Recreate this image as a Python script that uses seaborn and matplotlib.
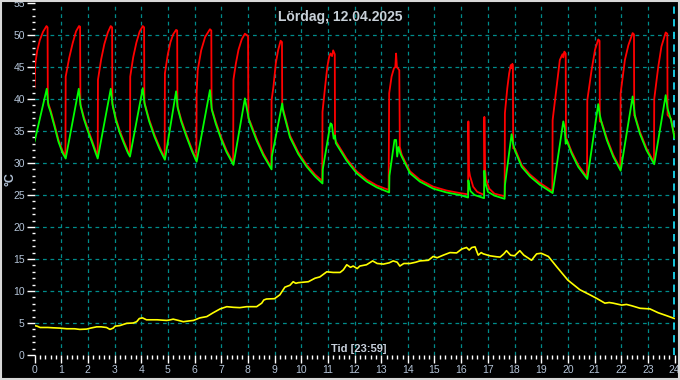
import pandas as pd
import matplotlib
matplotlib.use("Agg")
import matplotlib.pyplot as plt
import seaborn as sns
from matplotlib.ticker import MultipleLocator
from matplotlib.patches import Rectangle

# Flow temperature (red) - hour, degC
red_t = [0.00, 0.03, 0.10, 0.20, 0.32, 0.45, 0.49, 0.50, 0.60, 0.75, 0.90, 1.05, 1.16,
         1.17, 1.30, 1.43, 1.56, 1.67, 1.71, 1.72, 1.85, 2.00, 2.15, 2.30, 2.37,
         2.38, 2.50, 2.62, 2.75, 2.86, 2.91, 2.92, 3.05, 3.20, 3.35, 3.50, 3.58,
         3.59, 3.70, 3.82, 3.94, 4.06, 4.11, 4.12, 4.30, 4.50, 4.70, 4.88,
         4.89, 5.00, 5.10, 5.20, 5.31, 5.35, 5.36, 5.50, 5.70, 5.90, 6.07,
         6.08, 6.12, 6.25, 6.40, 6.58, 6.63, 6.64, 6.80, 7.00, 7.20, 7.45,
         7.46, 7.55, 7.65, 7.77, 7.89, 7.96, 8.01, 8.02, 8.10, 8.33, 8.58, 8.88,
         8.89, 8.96, 9.05, 9.14, 9.23, 9.28, 9.29, 9.33, 9.58, 9.89, 10.21, 10.52, 10.79,
         10.80, 10.90, 10.98, 11.05, 11.10, 11.16, 11.20, 11.26, 11.27, 11.30, 11.70, 12.08, 12.46, 12.83, 13.28,
         13.30, 13.39, 13.48, 13.53, 13.56, 13.59, 13.68, 13.70, 13.77, 14.08, 14.45, 14.95, 15.45, 15.95, 16.26,
         16.27, 16.29, 16.33, 16.45, 16.60, 16.86,
         16.87, 16.89, 16.93, 17.05, 17.25, 17.63,
         17.64, 17.73, 17.80, 17.86, 17.89, 17.92, 17.94, 17.95, 18.02, 18.27, 18.58, 18.95, 19.42,
         19.43, 19.58, 19.70, 19.80, 19.83, 19.87, 19.92, 19.93, 20.14, 20.39, 20.72,
         20.73, 20.89, 21.02, 21.14, 21.19, 21.20, 21.27, 21.46, 21.70, 21.97,
         21.98, 22.14, 22.27, 22.43, 22.48, 22.49, 22.52, 22.70, 22.95, 23.23,
         23.24, 23.39, 23.51, 23.67, 23.73, 23.74, 23.87, 24.00]
red_v = [41.7, 45.5, 47.5, 49.2, 50.5, 51.4, 51.2, 39.5, 38.3, 36.0, 33.6, 31.9, 31.0,
         43.5, 46.4, 48.7, 50.6, 51.4, 51.3, 39.2, 37.2, 35.3, 33.6, 31.8, 31.0,
         43.0, 46.2, 48.6, 50.4, 51.4, 51.2, 39.3, 37.0, 35.0, 33.4, 31.9, 31.3,
         43.5, 46.5, 48.8, 50.5, 51.4, 51.2, 39.5, 36.8, 34.4, 32.4, 30.8,
         44.0, 47.0, 48.9, 50.1, 50.8, 50.7, 38.9, 36.8, 34.4, 32.2, 30.5,
         41.0, 44.5, 47.6, 49.7, 50.9, 50.7, 38.6, 36.4, 34.0, 32.0, 30.0,
         43.0, 45.5, 47.7, 49.3, 50.2, 50.0, 49.8, 37.0, 36.3, 33.8, 31.5, 29.3,
         39.8, 41.9, 45.6, 47.7, 49.1, 48.9, 38.5, 38.3, 34.3, 31.7, 29.7, 28.2, 27.2,
         38.0, 42.0, 45.0, 46.6, 47.1, 46.7, 47.6, 47.0, 33.8, 33.4, 30.7, 28.7, 27.4, 26.5, 25.8,
         40.9, 43.5, 44.8, 45.0, 47.1, 45.0, 44.5, 32.5, 31.3, 28.7, 27.4, 26.3, 25.7, 25.3, 25.1,
         36.5, 29.0, 28.0, 26.3, 25.5, 25.0,
         37.2, 29.5, 27.5, 26.0, 25.2, 24.8,
         37.8, 41.7, 44.0, 45.3, 44.8, 45.5, 45.2, 32.3, 32.2, 29.7, 28.2, 26.9, 25.6,
         36.7, 41.9, 46.1, 47.0, 46.5, 47.4, 47.1, 34.0, 31.8, 29.7, 27.8,
         39.8, 44.5, 47.7, 49.3, 49.1, 36.5, 36.4, 33.9, 31.3, 29.1,
         40.9, 46.1, 48.4, 50.3, 50.1, 37.4, 37.4, 34.9, 32.3, 30.1,
         40.0, 45.0, 48.2, 50.4, 50.2, 37.5, 36.9, 34.1]

# Return temperature (green)
green_t = [0.00, 0.46, 0.52, 0.60, 0.75, 0.90, 1.05, 1.17,
           1.66, 1.73, 1.85, 2.00, 2.15, 2.30, 2.37,
           2.86, 2.93, 3.05, 3.20, 3.35, 3.50, 3.58,
           4.06, 4.13, 4.30, 4.50, 4.70, 4.89,
           5.31, 5.37, 5.50, 5.70, 5.90, 6.08,
           6.58, 6.65, 6.80, 7.00, 7.20, 7.46,
           7.89, 8.03, 8.10, 8.33, 8.58, 8.89,
           8.90, 9.29, 9.33, 9.58, 9.89, 10.21, 10.52, 10.80,
           10.81, 11.10, 11.15, 11.22, 11.27, 11.30, 11.70, 12.08, 12.46, 12.83, 13.30,
           13.31, 13.50, 13.56, 13.60, 13.65, 13.72, 13.77, 14.08, 14.45, 14.95, 15.45, 15.95, 16.26,
           16.27, 16.30, 16.35, 16.50, 16.86,
           16.87, 16.90, 17.00, 17.25, 17.63,
           17.64, 17.89, 17.95, 18.02, 18.27, 18.58, 18.95, 19.43,
           19.83, 19.88, 19.92, 19.95, 20.14, 20.39, 20.73,
           21.14, 21.20, 21.27, 21.46, 21.70, 21.98,
           22.43, 22.50, 22.52, 22.70, 22.95, 23.24,
           23.67, 23.74, 23.87, 24.00]
green_v = [33.3, 41.6, 39.0, 38.0, 35.7, 33.3, 31.6, 30.7,
           41.6, 38.9, 36.9, 35.0, 33.3, 31.5, 30.7,
           41.6, 39.0, 36.7, 34.7, 33.1, 31.6, 31.0,
           41.7, 39.2, 36.5, 34.1, 32.1, 30.5,
           41.2, 38.6, 36.5, 34.1, 31.9, 30.2,
           41.4, 38.3, 36.1, 33.7, 31.7, 29.7,
           40.1, 37.0, 36.0, 33.5, 31.2, 29.0,
           31.0, 39.3, 38.0, 34.0, 31.4, 29.4, 27.9, 26.8,
           29.0, 36.2, 36.0, 33.8, 34.3, 33.1, 30.4, 28.4, 27.1, 26.2, 25.4,
           28.0, 33.6, 33.6, 31.0, 32.5, 31.5, 31.0, 28.4, 27.1, 26.0, 25.4, 25.0, 24.6,
           27.3, 26.5, 25.6, 25.0, 24.5,
           28.8, 27.0, 25.5, 24.9, 24.4,
           26.5, 34.5, 33.0, 31.9, 29.4, 27.9, 26.6, 25.3,
           36.5, 35.5, 33.0, 33.6, 31.5, 29.4, 27.5,
           39.2, 37.5, 36.2, 33.6, 31.0, 28.8,
           40.4, 38.0, 37.2, 34.6, 32.0, 29.8,
           40.6, 38.5, 36.7, 33.9]

# Outdoor temperature (yellow)
out_t = [0.00, 0.10, 0.21, 0.50, 0.70, 0.96, 1.21, 1.50, 1.70, 1.96, 2.10, 2.33, 2.50, 2.70,
         2.83, 2.95, 3.02, 3.20, 3.46, 3.70, 3.83, 3.93, 4.05, 4.20, 4.60, 4.96, 5.10, 5.20,
         5.40, 5.58, 5.75, 5.96, 6.20, 6.46, 6.70, 6.96, 7.21, 7.46, 7.70, 7.96, 8.33, 8.52,
         8.60, 8.70, 9.00, 9.20, 9.39, 9.58, 9.70, 9.80, 9.89, 10.27, 10.52, 10.70, 10.96,
         11.20, 11.46, 11.58, 11.71, 11.85, 11.95, 12.10, 12.20, 12.45, 12.68, 12.85, 13.08,
         13.30, 13.45, 13.60, 13.70, 13.85, 14.08, 14.30, 14.45, 14.77, 14.95, 15.10, 15.33,
         15.58, 15.83, 16.02, 16.20, 16.30, 16.40, 16.52, 16.64, 16.75, 16.83, 17.08, 17.33,
         17.46, 17.60, 17.70, 17.85, 18.00, 18.20, 18.35, 18.46, 18.64, 18.75, 18.83, 19.00,
         19.27, 19.58, 20.00, 20.45, 20.83, 21.08, 21.39, 21.55, 21.70, 22.02, 22.20, 22.39,
         22.71, 23.08, 23.39, 23.70, 24.00]
out_v = [4.6, 4.5, 4.3, 4.3, 4.25, 4.2, 4.1, 4.1, 4.0, 4.05, 4.2, 4.4, 4.4, 4.3,
         4.0, 4.2, 4.5, 4.6, 4.95, 5.0, 5.2, 5.7, 5.8, 5.5, 5.5, 5.4, 5.5, 5.6,
         5.4, 5.2, 5.3, 5.4, 5.8, 6.0, 6.6, 7.2, 7.55, 7.45, 7.4, 7.55, 7.55, 8.1,
         8.6, 8.75, 8.8, 9.4, 10.6, 10.9, 11.45, 11.2, 11.3, 11.45, 12.0, 12.2, 13.0,
         12.9, 12.9, 13.3, 14.1, 13.7, 13.9, 13.5, 13.9, 14.1, 14.7, 14.3, 14.2,
         14.4, 14.7, 14.5, 13.9, 14.3, 14.3, 14.5, 14.7, 14.8, 15.4, 15.2, 15.6,
         16.0, 15.95, 16.55, 16.8, 16.4, 16.8, 16.9, 15.6, 16.0, 15.8, 15.5, 15.35,
         15.3, 15.8, 16.3, 15.6, 15.5, 16.3, 15.6, 15.3, 14.8, 15.4, 15.8, 15.9,
         15.4, 13.8, 11.7, 10.2, 9.4, 8.85, 8.1, 8.2, 8.1, 7.8, 7.9, 7.7,
         7.3, 7.2, 6.6, 6.15, 5.7]

x_ticks = list(range(0, 25))
y_ticks = list(range(0, 56, 5))

sns.set_theme(style="ticks", rc={"axes.facecolor": "black", "figure.facecolor": "black",
                                 "xtick.color": "white", "ytick.color": "white"})
plt.rcParams['font.family'] = ['Liberation Sans', 'DejaVu Sans']

fig = plt.figure(figsize=(6.8, 3.8), dpi=100)
ax = fig.add_axes([34.5 / 680, 25 / 380, 640 / 680, 352 / 380])
ax.set_facecolor("black")

# dashed grid, one line per hour / per 5 degrees
grid_col = "#008b8b"
for h in range(1, 24):
    ax.axvline(h, color=grid_col, lw=0.9, ls=(0, (3, 3)), zorder=1)
for v in range(5, 55, 5):
    ax.axhline(v, color=grid_col, lw=0.9, ls=(0, (3, 3)), zorder=1)
ax.axvline(23.98, color="#19d8f0", lw=1.3, ls=(0, (4, 3)), zorder=1)

red_df = pd.DataFrame({"t": red_t, "v": red_v})
green_df = pd.DataFrame({"t": green_t, "v": green_v})
out_df = pd.DataFrame({"t": out_t, "v": out_v})

sns.lineplot(data=red_df, x="t", y="v", ax=ax, color="#ff0000", lw=1.3,
             estimator=None, sort=False, zorder=3)
sns.lineplot(data=green_df, x="t", y="v", ax=ax, color="#00ff00", lw=1.3,
             estimator=None, sort=False, zorder=4)
sns.lineplot(data=out_df, x="t", y="v", ax=ax, color="#ffff00", lw=1.2,
             estimator=None, sort=False, zorder=4)

ax.set_xlim(0, 24)
ax.set_ylim(0, 55)
ax.set_xticks(x_ticks)
ax.set_yticks(y_ticks)
ax.xaxis.set_minor_locator(MultipleLocator(0.2))
ax.yaxis.set_minor_locator(MultipleLocator(1))
lab_col = "#b4c4d8"
ax.tick_params(axis="both", which="major", direction="out", color="white",
               labelcolor=lab_col, labelsize=7.5, width=1)
ax.tick_params(axis="y", which="major", length=6, pad=1)
ax.tick_params(axis="y", which="minor", length=2.5, width=1, color="white")
ax.tick_params(axis="x", which="major", length=5.5, pad=1.5)
ax.tick_params(axis="x", which="minor", length=3, width=1, color="white")
for s in ax.spines.values():
    s.set_visible(False)
ax.set_xlabel("")
ax.set_ylabel("")

fig.text(340 / 680, 1 - 17.5 / 380, "Lördag, 12.04.2025", color="#c8d0d8",
         fontsize=10, fontweight="bold", ha="center", va="center")
fig.text(359 / 680, 1 - 349 / 380, "Tid [23:59]", color="#c8d0dc",
         fontsize=8, fontweight="bold", ha="center", va="center")
fig.text(10 / 680, 1 - 179 / 380, "°C", color="#b4c4d8", fontsize=9,
         fontweight="bold", rotation=90, ha="center", va="center")

fig.patches.append(Rectangle((0.001, 0.002), 0.997, 0.996, transform=fig.transFigure,
                             fill=False, edgecolor="#d8d8d8", lw=1.5))

fig.savefig("out.png", dpi=100, facecolor="black")
